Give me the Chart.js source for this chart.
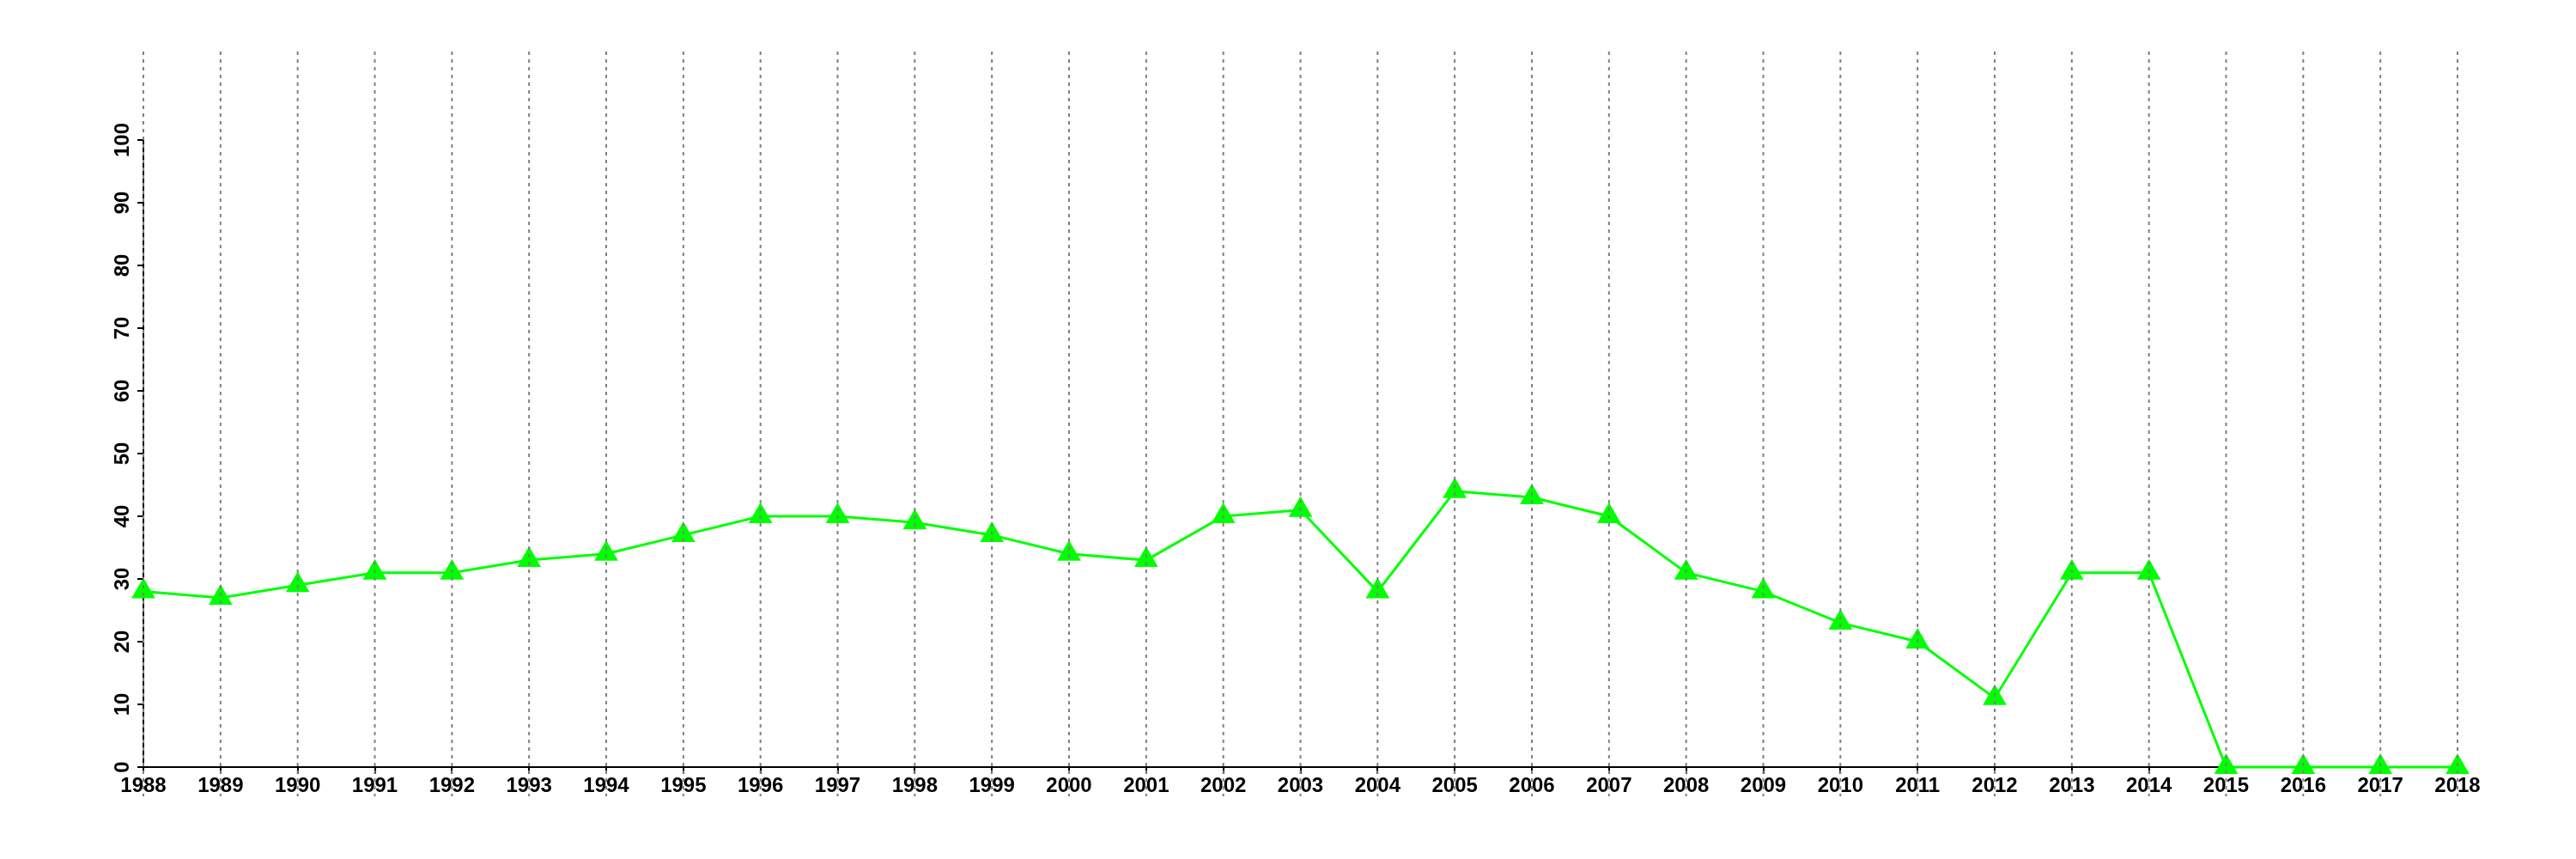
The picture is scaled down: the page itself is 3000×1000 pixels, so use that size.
<!DOCTYPE html>
<html>
<head>
<meta charset="utf-8">
<script src="https://cdn.jsdelivr.net/npm/chart.js@4.4.1/dist/chart.umd.min.js"></script>
<style>
  body { margin: 0; background: #fff; }
</style>
</head>
<body>
<canvas id="grafica" width="3000" height="1000"></canvas>
<script>
// ─── DATOS ────────────────────────────────────────────────────────
const anios = ['1988', '1989', '1990', '1991', '1992', '1993', '1994', '1995', '1996', '1997',
    '1998', '1999', '2000', '2001', '2002', '2003', '2004', '2005', '2006', '2007',
    '2008', '2009', '2010', '2011', '2012', '2013', '2014', '2015', '2016', '2017', '2018']
const valores = [28, 27, 29, 31, 31, 33, 34, 37, 40, 40,
    39, 37, 34, 33, 40, 41, 28, 44, 43, 40,
    31, 28, 23, 20, 11, 31, 31, 0, 0, 0, 0]
const ticksY = [0, 10, 20, 30, 40, 50, 60, 70, 80, 90, 100]

const fuente = { family: '"Liberation Sans", Arial, sans-serif', size: 24, weight: 'bold' }

// ─── LÍNEAS PUNTEADAS VERTICALES (salen del área del gráfico) ─────
const lineasVerticales = {
    id: 'lineasVerticales',
    afterDatasetsDraw(chart) {
        const { ctx, chartArea, scales: { x } } = chart
        ctx.save()
        ctx.strokeStyle = '#808080'
        ctx.lineWidth = 2
        ctx.setLineDash([4, 5])
        x.ticks.forEach((t, i) => {
            const px = x.getPixelForTick(i)
            ctx.beginPath()
            ctx.moveTo(px, chartArea.top - 103)
            ctx.lineTo(px, chartArea.bottom + 34)
            ctx.stroke()
        })
        ctx.restore()
    }
}

// ─── ETIQUETAS DEL EJE Y GIRADAS ──────────────────────────────────
const etiquetasY = {
    id: 'etiquetasY',
    afterDraw(chart) {
        const { ctx, scales: { y } } = chart
        ctx.save()
        ctx.font = `bold ${fuente.size}px ${fuente.family}`
        ctx.fillStyle = '#000'
        ctx.textAlign = 'center'
        ctx.textBaseline = 'alphabetic'
        y.ticks.forEach((t, i) => {
            ctx.save()
            ctx.translate(y.right - 17, y.getPixelForTick(i))
            ctx.rotate(-Math.PI / 2)
            ctx.fillText(t.label, 0, 0)
            ctx.restore()
        })
        ctx.restore()
    }
}

new Chart(document.getElementById('grafica'), {
    type: 'line',
    data: {
        labels: anios,
        datasets: [{
            data: valores,
            borderColor: '#00ff00',
            backgroundColor: '#00ff00',
            borderWidth: 3,
            pointStyle: 'triangle',
            pointRadius: 16,
            pointBackgroundColor: '#00ff00',
            pointBorderWidth: 0,
            tension: 0,
            clip: false
        }]
    },
    options: {
        responsive: false,
        devicePixelRatio: 1,
        animation: false,
        layout: { padding: { top: 163, right: 138, left: 0, bottom: 0 } },
        plugins: { legend: { display: false }, tooltip: { enabled: false } },
        scales: {
            x: {
                z: 1,
                offset: false,
                grid: { drawOnChartArea: false, tickLength: 8, color: '#000', lineWidth: 2 },
                border: { color: '#000', width: 2 },
                ticks: { font: fuente, color: '#000', padding: 0, maxRotation: 0, autoSkip: false },
                afterFit(s) { s.height = 107 }
            },
            y: {
                z: 1,
                min: 0,
                max: 100,
                grid: { drawOnChartArea: false, tickLength: 7, color: '#000', lineWidth: 2 },
                border: { color: '#000', width: 2 },
                ticks: { display: false },
                afterBuildTicks(s) { s.ticks = ticksY.map(v => ({ value: v })) },
                afterFit(s) { s.width = 167 }
            }
        }
    },
    plugins: [lineasVerticales, etiquetasY]
})
</script>
</body>
</html>
